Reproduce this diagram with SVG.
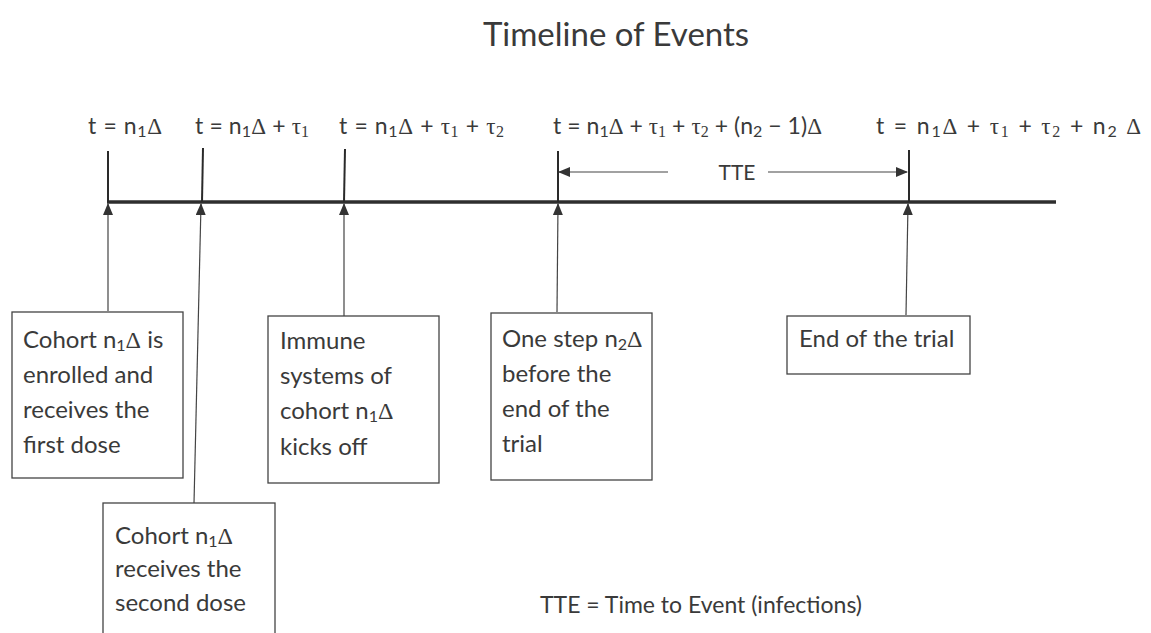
<svg xmlns="http://www.w3.org/2000/svg" width="1151" height="633" viewBox="0 0 1151 633">
<defs>
<style>
.t{font-family:Lato,"Open Sans","Liberation Sans",sans-serif;fill:#3a3a3a}
.lbl{font-size:23px}
.box{fill:#fff;stroke:#444;stroke-width:1.3}
.bt{font-size:24px}
.m{font-family:"Liberation Serif","DejaVu Serif",serif}
.tick{stroke:#2a2a2a;stroke-width:2}
.arr{stroke:#444;stroke-width:1.2;fill:none}
</style>
<marker id="ah" markerUnits="userSpaceOnUse" markerWidth="12" markerHeight="10" viewBox="0 0 12 10" refX="11" refY="5" orient="auto">
<path d="M0,0 L12,5 L0,10 Z" fill="#333"/>
</marker>
</defs>
<rect width="1151" height="633" fill="#fff"/>
<g id="title"><text class="t" x="616" y="46" font-size="33" text-anchor="middle">Timeline of Events</text></g>

<g id="timeline">
<line x1="107" y1="202" x2="1056" y2="202" stroke="#2e2e2e" stroke-width="3.5"/>
<line class="tick" x1="108" y1="151" x2="108" y2="202"/>
<line class="tick" x1="203" y1="148" x2="202" y2="202"/>
<line class="tick" x1="345" y1="149" x2="344" y2="202"/>
<line class="tick" x1="558" y1="151" x2="558" y2="202"/>
<line class="tick" x1="909" y1="150" x2="909" y2="202"/>
</g>

<g id="labels" class="t lbl">
<text x="88" y="134" textLength="74">t = n<tspan font-size="16" dy="3">1</tspan><tspan class="m" dy="-3">Δ</tspan></text>
<text x="195" y="134" textLength="114">t = n<tspan font-size="16" dy="3">1</tspan><tspan class="m" dy="-3">Δ</tspan> + <tspan class="m">τ</tspan><tspan class="m" font-size="16" dy="3">1</tspan></text>
<text x="339" y="134" textLength="165">t = n<tspan font-size="16" dy="3">1</tspan><tspan class="m" dy="-3">Δ</tspan> + <tspan class="m">τ</tspan><tspan class="m" font-size="16" dy="3">1</tspan><tspan dy="-3"> + </tspan><tspan class="m">τ</tspan><tspan class="m" font-size="16" dy="3">2</tspan></text>
<text x="553" y="134" textLength="269">t = n<tspan font-size="16" dy="3">1</tspan><tspan class="m" dy="-3">Δ</tspan> + <tspan class="m">τ</tspan><tspan class="m" font-size="16" dy="3">1</tspan><tspan dy="-3"> + </tspan><tspan class="m">τ</tspan><tspan class="m" font-size="16" dy="3">2</tspan><tspan dy="-3">  + (n</tspan><tspan font-size="16" dy="3">2</tspan><tspan dy="-3"> − 1)</tspan><tspan class="m">Δ</tspan></text>
<text x="876" y="134" textLength="265">t = n<tspan font-size="16" dy="3">1</tspan><tspan class="m" dy="-3">Δ</tspan> + <tspan class="m">τ</tspan><tspan class="m" font-size="16" dy="3">1</tspan><tspan dy="-3"> + </tspan><tspan class="m">τ</tspan><tspan class="m" font-size="16" dy="3">2</tspan><tspan dy="-3">  + n</tspan><tspan font-size="16" dy="3">2</tspan><tspan class="m" dy="-3"> Δ</tspan></text>
</g>

<g id="connectors">
<line class="arr" x1="108" y1="311" x2="108" y2="204" marker-end="url(#ah)"/>
<line class="arr" x1="194" y1="503" x2="201" y2="204" marker-end="url(#ah)"/>
<line class="arr" x1="344" y1="316" x2="344" y2="204" marker-end="url(#ah)"/>
<line class="arr" x1="557" y1="312" x2="558" y2="204" marker-end="url(#ah)"/>
<line class="arr" x1="906" y1="315" x2="908" y2="204" marker-end="url(#ah)"/>
<line class="arr" x1="668" y1="172" x2="559" y2="172" marker-end="url(#ah)"/>
<line class="arr" x1="768" y1="172" x2="907" y2="172" marker-end="url(#ah)"/>
<text class="t" x="737" y="180" font-size="21" text-anchor="middle">TTE</text>
</g>

<g id="box-first-dose">
<rect class="box" x="12" y="312" width="171" height="166"/>
<text class="t bt" x="23" y="348">Cohort n<tspan font-size="16" dy="3">1</tspan><tspan class="m" dy="-3">Δ</tspan> is</text>
<text class="t bt" x="23" y="383">enrolled and</text>
<text class="t bt" x="23" y="418">receives the</text>
<text class="t bt" x="23" y="453">first dose</text>
</g>

<g id="box-second-dose">
<rect class="box" x="103" y="503" width="172" height="140"/>
<text class="t bt" x="115" y="544">Cohort n<tspan font-size="16" dy="3">1</tspan><tspan class="m" dy="-3">Δ</tspan></text>
<text class="t bt" x="115" y="577">receives the</text>
<text class="t bt" x="115" y="611">second dose</text>
</g>

<g id="box-immune">
<rect class="box" x="268" y="316" width="171" height="167"/>
<text class="t bt" x="280" y="349">Immune</text>
<text class="t bt" x="280" y="384">systems of</text>
<text class="t bt" x="280" y="419">cohort n<tspan font-size="16" dy="3">1</tspan><tspan class="m" dy="-3">Δ</tspan></text>
<text class="t bt" x="280" y="455">kicks off</text>
</g>

<g id="box-one-step">
<rect class="box" x="491" y="313" width="161" height="167"/>
<text class="t bt" x="502" y="347">One step n<tspan font-size="16" dy="3">2</tspan><tspan class="m" dy="-3">Δ</tspan></text>
<text class="t bt" x="502" y="382">before the</text>
<text class="t bt" x="502" y="417">end of the</text>
<text class="t bt" x="502" y="452">trial</text>
</g>

<g id="box-end">
<rect class="box" x="787" y="316" width="183" height="58"/>
<text class="t bt" x="799" y="347">End of the trial</text>
</g>

<g id="legend"><text class="t" x="540" y="613" font-size="23">TTE = Time to Event (infections)</text></g>
</svg>
